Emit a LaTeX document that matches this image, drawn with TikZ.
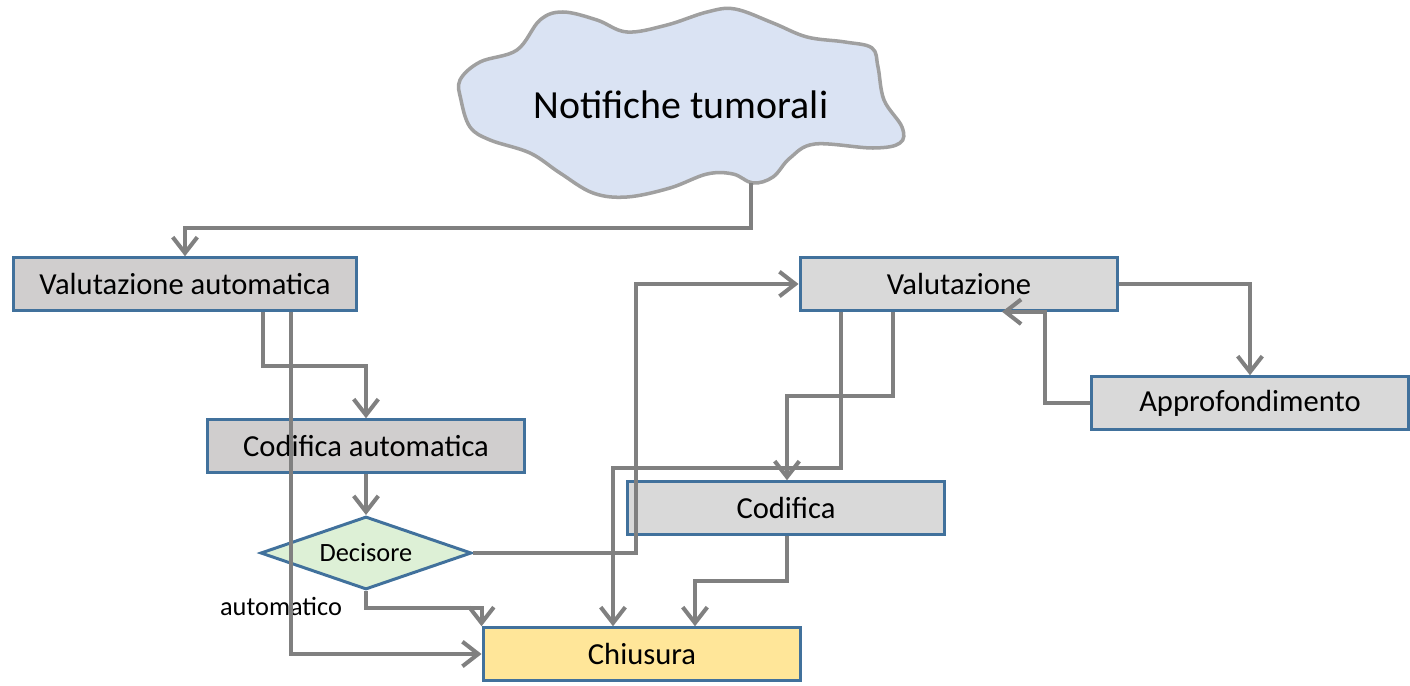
\documentclass[tikz,border=0pt]{standalone}
\usepackage{fontspec}
\setmainfont{Carlito}
\usetikzlibrary{arrows.meta,shapes.geometric}
\definecolor{bordoblu}{HTML}{41719C}
\definecolor{grigiobox}{HTML}{D9D9D9}
\definecolor{grigioauto}{HTML}{D0CECE}
\definecolor{verdedec}{HTML}{DDF0D6}
\definecolor{gialloch}{HTML}{FFE699}
\definecolor{azzurronuv}{HTML}{DAE3F3}
\definecolor{grigiolinea}{HTML}{808080}
\definecolor{grigionuv}{HTML}{A0A0A0}
\tikzset{
  stato/.style={draw=bordoblu,line width=1.7pt,fill=grigiobox,minimum height=1.05cm,
    inner sep=0pt,font=\fontsize{17.4}{20}\selectfont},
  freccia/.style={draw=grigiolinea,line width=2.3pt,
    -{Straight Barb[length=9pt,width=14pt]}},
}
\begin{document}
\begin{tikzpicture}[x=0.02cm,y=-0.02cm]
  \useasboundingbox (0,0) rectangle (1410,686);

  % nuvola
  \draw[draw=grigionuv,fill=azzurronuv,line width=2pt] plot[smooth cycle,tension=0.6] coordinates {
    (460,80) (480,62) (517,50) (540,20) (563,12) (597,20) (627,32) (667,25)
    (707,12) (735,9) (773,23) (807,37) (845,42) (872,48) (878,67) (884,100)
    (902,127) (900,143) (873,148) (815,144) (790,158) (773,177) (753,183)
    (733,174) (707,174) (670,188) (627,197) (593,193) (560,173) (530,153)
    (490,140) (470,127) (461,100)};
  \node[font=\fontsize{22.7}{26}\selectfont] (nuvola) at (681,105) {Notifiche tumorali};
  \coordinate (nb) at (751,183);

  % stati
  \node[stato,fill=grigioauto,minimum width=6.88cm] (va) at (185,284) {Valutazione automatica};
  \node[stato,fill=grigioauto,minimum width=6.36cm] (ca) at (366,446) {Codifica automatica};
  \node[diamond,draw=bordoblu,line width=1.7pt,fill=verdedec,aspect=2.9,inner sep=0pt,
    minimum width=4.22cm,minimum height=1.46cm,font=\fontsize{15}{18}\selectfont] (dec) at (366,553) {Decisore};
  \node[font=\fontsize{15}{18}\selectfont] (auto) at (281,606) {automatico};
  \node[stato,fill=gialloch,minimum width=6.36cm] (ch) at (642,654) {Chiusura};
  \node[stato,minimum width=6.36cm] (v) at (959,284) {Valutazione};
  \node[stato,minimum width=6.36cm] (a) at (1250,403) {Approfondimento};
  \node[stato,minimum width=6.36cm] (c) at (786,508) {Codifica};

  % connettori
  \draw[freccia] (nb) -- (751,228) -| (va.north);
  \draw[freccia] (va.south -| 263,0) -- (263,366) -| (ca.north);
  \draw[freccia] (va.south -| 291,0) |- (ch.west);
  \draw[freccia] (ca.south) -- (dec.north);
  \draw[freccia] (dec.south) -- (366,608) -| (ch.north west);
  \draw[freccia] (dec.east) -| (v.west -| 636,0) -- (v.west);
  \draw[freccia] (v.south -| 841,0) -- (841,468) -| (ch.north -| 613,0);
  \draw[freccia] (v.south -| 893,0) -- (893,396) -| (c.north -| 787,0);
  \draw[freccia] (c.south -| 787,0) -- (787,581) -| (ch.north -| 695,0);
  \draw[freccia] (v.east) -| (a.north);
  \draw[freccia] (a.west) -| (v.south -| 1045,0) -- (v.south -| 1002,0);
\end{tikzpicture}
\end{document}
